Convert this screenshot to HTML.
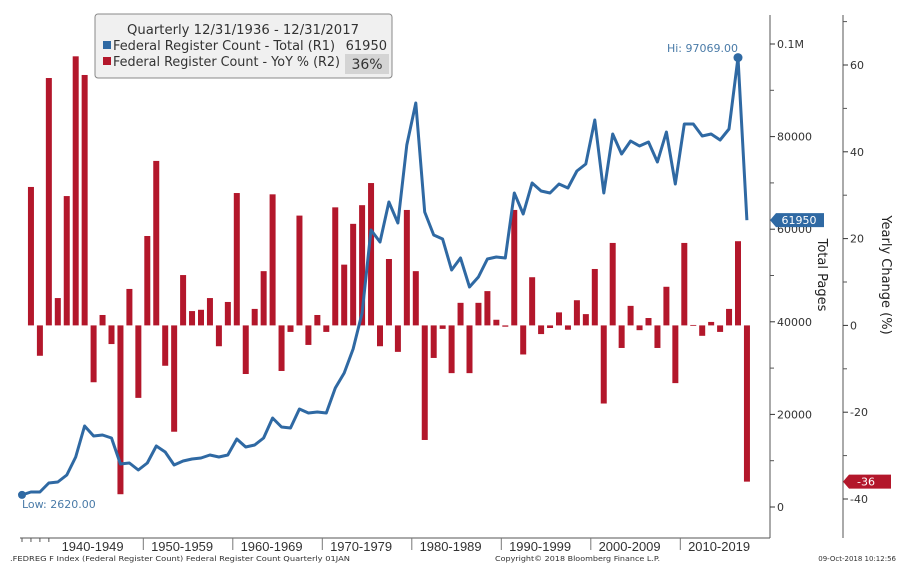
<!DOCTYPE html>
<html><head><meta charset="utf-8"><style>
html,body{margin:0;padding:0;background:#fff;width:914px;height:585px;overflow:hidden}
svg{display:block;font-family:"DejaVu Sans","Liberation Sans",sans-serif}
</style></head><body>
<svg id="chart" width="914" height="585" viewBox="0 0 914 585" xmlns="http://www.w3.org/2000/svg">
<g id="bars"></g>
<g id="line"></g>
<g id="axes"></g>
<g>
<rect x="95" y="14" width="297" height="64" rx="3" fill="#f0f0f0" stroke="#888" stroke-width="1"/>
<text x="243" y="34" font-size="13" fill="#333" text-anchor="middle" textLength="232" lengthAdjust="spacingAndGlyphs">Quarterly 12/31/1936 - 12/31/2017</text>
<rect x="103" y="41" width="8" height="8" fill="#2f69a3"/>
<text x="113" y="50" font-size="13" fill="#333" textLength="222" lengthAdjust="spacingAndGlyphs">Federal Register Count - Total (R1)</text>
<text x="387" y="50" font-size="13" fill="#333" text-anchor="end">61950</text>
<rect x="103" y="57" width="8" height="8" fill="#b3172b"/>
<text x="113" y="66" font-size="13" fill="#333" textLength="227" lengthAdjust="spacingAndGlyphs">Federal Register Count - YoY % (R2)</text>
<rect x="345" y="54" width="44" height="20" fill="#d4d4d4"/>
<text x="367" y="69" font-size="14" fill="#333" text-anchor="middle">36%</text>
</g>
<text x="22" y="508" font-size="11" fill="#4a7ba8">Low: 2620.00</text>
<text x="738" y="52" font-size="11" fill="#4a7ba8" text-anchor="end">Hi: 97069.00</text>
<text x="10" y="561" font-size="7" fill="#333" textLength="340" lengthAdjust="spacingAndGlyphs">.FEDREG F Index (Federal Register Count) Federal Register Count  Quarterly 01JAN</text>
<text x="495" y="561" font-size="7" fill="#333" textLength="165" lengthAdjust="spacingAndGlyphs">Copyright© 2018 Bloomberg Finance L.P.</text>
<text x="896" y="561" font-size="7" fill="#333" text-anchor="end">09-Oct-2018 10:12:56</text>
<text transform="translate(818,275) rotate(90)" font-size="13" fill="#222" text-anchor="middle">Total Pages</text>
<text transform="translate(882,275) rotate(90)" font-size="13" fill="#222" text-anchor="middle">Yearly Change (%)</text>
</svg>
<script>
const years = [];
for (let y = 1936; y <= 2017; y++) years.push(y);
const totalPages = [2620,3240,3240,5180,5400,6910,10800,17500,15340,15550,14900,9290,9500,8000,9500,13180,11880,9070,9940,10370,10580,11230,10800,11230,14690,12960,13390,14900,19220,17280,17060,21170,20300,20520,20300,25700,28940,34130,41900,59830,57240,65880,61340,78190,87260,63720,58750,57890,51190,53780,47520,49680,53570,54000,53780,67820,63290,69980,68260,67820,69770,68900,72580,74090,83590,67820,80570,76250,79060,77980,78840,74520,81000,69770,82730,82730,80140,80570,79270,81650,97069,61950];
const yoyPct = [31.9,-7.0,57,6.3,29.8,62,57.7,-13.1,2.4,-4.3,-38.9,8.4,-16.7,20.6,37.9,-9.3,-24.5,11.6,3.3,3.6,6.3,-4.8,5.4,30.5,-11.2,3.8,12.5,30.2,-10.5,-1.5,25.3,-4.5,2.4,-1.5,27.2,14,23.4,27.7,32.8,-4.8,15.3,-6.1,26.6,12.5,-26.4,-7.5,-0.8,-11,5.2,-11,5.2,7.9,1.3,-0.3,26.6,-6.7,11.1,-2,-0.6,3,-1,5.8,2.6,13,-18,19,-5.2,4.5,-1.1,1.7,-5.2,8.9,-13.3,19,0.1,-2.4,0.8,-1.5,3.8,19.4,-36];
const leftTicks = [0,20000,40000,60000,80000,100000];
const leftTickLabels = ["0","20000","40000","60000","80000","0.1M"];
const rightTicks = [-40,-20,0,20,40,60];
const decadeLabels = ["1940-1949","1950-1959","1960-1969","1970-1979","1980-1989","1990-1999","2000-2009","2010-2019"];
const decadeStarts = [1940,1950,1960,1970,1980,1990,2000,2010];

const NS = "http://www.w3.org/2000/svg";
const xS = y => 22 + (y - 1936) * 8.95;
const yL = v => 507 - v * 463 / 100000;
const yR = v => 325.4 - v * 4.34;
function mk(tag, attrs, parent){const e=document.createElementNS(NS,tag);for(const k in attrs)e.setAttribute(k,attrs[k]);parent.appendChild(e);return e;}

const bars = document.getElementById('bars');
yoyPct.forEach((v,i)=>{
  const yr = years[i+1];
  const y0 = yR(0), y1 = yR(v);
  const r = mk('rect',{x:xS(yr)-3,y:Math.min(y0,y1),width:6,height:Math.max(0.8,Math.abs(y1-y0)),fill:'#b3172b'},bars);
  
  
});

const lg = document.getElementById('line');
const pts = totalPages.map((v,i)=>xS(years[i]).toFixed(1)+','+yL(v).toFixed(1)).join(' ');
const pl = mk('polyline',{points:pts,fill:'none',stroke:'#2f69a3','stroke-width':3,'stroke-linejoin':'round'},lg);


const lowDot = mk('circle',{cx:xS(1936),cy:yL(totalPages[0]),r:4,fill:'#2f69a3'},lg);


const hiIdx = totalPages.indexOf(Math.max(...totalPages));
const hiDot = mk('circle',{cx:xS(years[hiIdx]),cy:yL(totalPages[hiIdx]),r:4.5,fill:'#2f69a3'},lg);



const ax = document.getElementById('axes');
mk('line',{x1:770,y1:15,x2:770,y2:538,stroke:'#555'},ax);
mk('line',{x1:843,y1:15,x2:843,y2:538,stroke:'#555'},ax);
mk('line',{x1:20,y1:538,x2:770,y2:538,stroke:'#555'},ax);
leftTicks.forEach((v,i)=>{
  mk('line',{x1:770,y1:yL(v),x2:775,y2:yL(v),stroke:'#333'},ax);
  mk('line',{x1:770,y1:yL(v+10000),x2:774,y2:yL(v+10000),stroke:'#555'},ax);
  const t = mk('text',{x:777,y:yL(v)+4,'font-size':11,fill:'#333'},ax);
  t.textContent = leftTickLabels[i];
  
  
});
rightTicks.forEach(v=>{
  mk('line',{x1:843,y1:yR(v),x2:848,y2:yR(v),stroke:'#333'},ax);
  mk('line',{x1:843,y1:yR(v+10),x2:847,y2:yR(v+10),stroke:'#555'},ax);
  const t = mk('text',{x:850,y:yR(v)+4,'font-size':11,fill:'#333'},ax);
  t.textContent = String(v);
  
  
});
years.forEach(y=>{ if (y<1940) mk('line',{x1:xS(y),y1:538,x2:xS(y),y2:542,stroke:'#555'},ax); });
decadeStarts.forEach((d,i)=>{
  const sx = xS(d) - 4;
  if (i>0) mk('line',{x1:sx,y1:538,x2:sx,y2:550,stroke:'#777'},ax);
  const t = mk('text',{x:xS(d+4)-1,y:551,'font-size':13,fill:'#333','text-anchor':'middle',textLength:62,lengthAdjust:'spacingAndGlyphs','font-family':'Liberation Sans, sans-serif'},ax);
  t.textContent = decadeLabels[i];
  
  
});
const lastV = totalPages[totalPages.length-1];
const ty = yL(lastV);
mk('path',{d:`M770 ${ty} L776 ${ty-7} L824 ${ty-7} L824 ${ty+7} L776 ${ty+7} Z`,fill:'#2f69a3'},ax);
const lt = mk('text',{x:799,y:ty+4,'font-size':11,fill:'#fff','text-anchor':'middle'},ax);
lt.textContent = String(lastV);


const lastY = yoyPct[yoyPct.length-1];
const ry = yR(lastY);
mk('path',{d:`M843 ${ry} L849 ${ry-7} L891 ${ry-7} L891 ${ry+7} L849 ${ry+7} Z`,fill:'#b3172b'},ax);
const rt = mk('text',{x:866,y:ry+4,'font-size':11,fill:'#fff','text-anchor':'middle'},ax);
rt.textContent = String(lastY);


</script>
</body></html>
